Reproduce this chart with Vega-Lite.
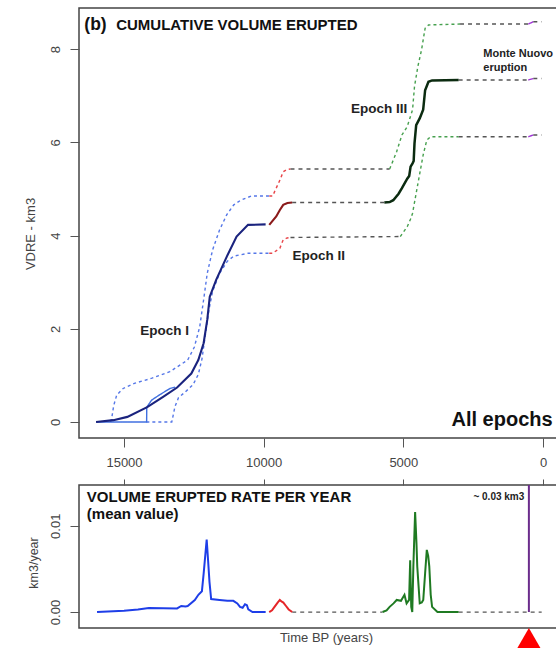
{
 "$schema": "https://vega.github.io/schema/vega-lite/v6.json",
 "background": "white",
 "padding": {"left": 23, "top": 7, "right": 0, "bottom": 0},
 "spacing": 47,
 "bounds": "flush",
 "config": {
  "font": "Liberation Sans",
  "view": {"stroke": "#444444", "strokeWidth": 1.5},
  "axis": {"domain": false, "grid": false, "tickColor": "#555555", "tickWidth": 1, "labelColor": "#444444", "labelFont": "Liberation Sans", "labelFontSize": 13, "titleFont": "Liberation Sans", "titleColor": "#444444", "titleFontWeight": "normal", "titleFontSize": 13}
 },
 "datasets": {
  "cum": [
   {"s":"bu","g":"bci","t":15480,"v":0},{"s":"bu","g":"bci","t":15440,"v":0.08},{"s":"bu","g":"bci","t":15370,"v":0.35},{"s":"bu","g":"bci","t":15260,"v":0.58},{"s":"bu","g":"bci","t":15030,"v":0.72},{"s":"bu","g":"bci","t":14630,"v":0.83},{"s":"bu","g":"bci","t":14000,"v":0.94},{"s":"bu","g":"bci","t":13360,"v":1.08},{"s":"bu","g":"bci","t":12720,"v":1.33},{"s":"bu","g":"bci","t":12480,"v":1.61},{"s":"bu","g":"bci","t":12290,"v":2.04},{"s":"bu","g":"bci","t":12150,"v":2.62},{"s":"bu","g":"bci","t":12020,"v":3.19},{"s":"bu","g":"bci","t":11830,"v":3.69},{"s":"bu","g":"bci","t":11580,"v":4.12},{"s":"bu","g":"bci","t":11320,"v":4.45},{"s":"bu","g":"bci","t":11070,"v":4.66},{"s":"bu","g":"bci","t":10820,"v":4.76},{"s":"bu","g":"bci","t":10440,"v":4.85},{"s":"bu","g":"bci","t":9800,"v":4.85},
   {"s":"bl","g":"bci","t":14200,"v":0},{"s":"bl","g":"bci","t":13290,"v":0},{"s":"bl","g":"bci","t":13175,"v":0.33},{"s":"bl","g":"bci","t":13050,"v":0.52},{"s":"bl","g":"bci","t":12800,"v":0.65},{"s":"bl","g":"bci","t":12530,"v":0.8},{"s":"bl","g":"bci","t":12340,"v":1.02},{"s":"bl","g":"bci","t":12210,"v":1.35},{"s":"bl","g":"bci","t":12080,"v":1.9},{"s":"bl","g":"bci","t":11960,"v":2.4},{"s":"bl","g":"bci","t":11830,"v":2.8},{"s":"bl","g":"bci","t":11580,"v":3.19},{"s":"bl","g":"bci","t":11300,"v":3.45},{"s":"bl","g":"bci","t":11070,"v":3.56},{"s":"bl","g":"bci","t":10560,"v":3.62},{"s":"bl","g":"bci","t":9800,"v":3.62},
   {"s":"ru","g":"rci","t":9800,"v":4.85},{"s":"ru","g":"rci","t":9680,"v":4.85},{"s":"ru","g":"rci","t":9420,"v":5.19},{"s":"ru","g":"rci","t":9300,"v":5.37},{"s":"ru","g":"rci","t":9160,"v":5.42},{"s":"ru","g":"rci","t":9040,"v":5.43},
   {"s":"rl","g":"rci","t":9800,"v":3.62},{"s":"rl","g":"rci","t":9680,"v":3.62},{"s":"rl","g":"rci","t":9420,"v":3.73},{"s":"rl","g":"rci","t":9300,"v":3.91},{"s":"rl","g":"rci","t":9160,"v":3.95},{"s":"rl","g":"rci","t":9040,"v":3.96},
   {"s":"gm1","g":"gap","t":8980,"v":4.71},{"s":"gm1","g":"gap","t":5680,"v":4.71},
   {"s":"gu1","g":"gap","t":9040,"v":5.43},{"s":"gu1","g":"gap","t":5490,"v":5.43},
   {"s":"gl1","g":"gap","t":9040,"v":3.96},{"s":"gl1","g":"gap","t":5110,"v":3.98},
   {"s":"gu","g":"gci","t":5490,"v":5.43},{"s":"gu","g":"gci","t":5360,"v":5.62},{"s":"gu","g":"gci","t":5240,"v":5.8},{"s":"gu","g":"gci","t":5050,"v":6.16},{"s":"gu","g":"gci","t":4860,"v":6.34},{"s":"gu","g":"gci","t":4670,"v":6.7},{"s":"gu","g":"gci","t":4600,"v":7.2},{"s":"gu","g":"gci","t":4480,"v":7.63},{"s":"gu","g":"gci","t":4350,"v":7.98},{"s":"gu","g":"gci","t":4220,"v":8.45},{"s":"gu","g":"gci","t":4100,"v":8.52},{"s":"gu","g":"gci","t":2970,"v":8.54},
   {"s":"gl","g":"gci","t":5110,"v":3.98},{"s":"gl","g":"gci","t":4860,"v":4.19},{"s":"gl","g":"gci","t":4730,"v":4.37},{"s":"gl","g":"gci","t":4670,"v":4.48},{"s":"gl","g":"gci","t":4540,"v":4.91},{"s":"gl","g":"gci","t":4410,"v":5.34},{"s":"gl","g":"gci","t":4290,"v":5.73},{"s":"gl","g":"gci","t":4160,"v":6.05},{"s":"gl","g":"gci","t":4030,"v":6.12},{"s":"gl","g":"gci","t":3020,"v":6.12},
   {"s":"gm2","g":"gap","t":3020,"v":7.34},{"s":"gm2","g":"gap","t":526,"v":7.34},
   {"s":"gu2","g":"gap","t":2970,"v":8.54},{"s":"gu2","g":"gap","t":526,"v":8.54},
   {"s":"gl2","g":"gap","t":3020,"v":6.12},{"s":"gl2","g":"gap","t":526,"v":6.12},
   {"s":"mm","g":"mn","t":526,"v":7.34},{"s":"mm","g":"mn","t":347,"v":7.37},
   {"s":"mu","g":"mn","t":526,"v":8.54},{"s":"mu","g":"mn","t":347,"v":8.59},
   {"s":"ml","g":"mn","t":526,"v":6.12},{"s":"ml","g":"mn","t":347,"v":6.16},
   {"s":"gm3","g":"gap","t":347,"v":7.37},{"s":"gm3","g":"gap","t":47,"v":7.37},
   {"s":"gu3","g":"gap","t":347,"v":8.59},{"s":"gu3","g":"gap","t":47,"v":8.59},
   {"s":"gl3","g":"gap","t":347,"v":6.16},{"s":"gl3","g":"gap","t":47,"v":6.16},
   {"s":"fit","g":"fit","t":16000,"v":0},{"s":"fit","g":"fit","t":14190,"v":0},{"s":"fit","g":"fit","t":14185,"v":0.32},{"s":"fit","g":"fit","t":14010,"v":0.47},{"s":"fit","g":"fit","t":13710,"v":0.59},{"s":"fit","g":"fit","t":13350,"v":0.72},{"s":"fit","g":"fit","t":13170,"v":0.75},
   {"s":"e1","g":"e1","t":16000,"v":0},{"s":"e1","g":"e1","t":15380,"v":0.04},{"s":"e1","g":"e1","t":14880,"v":0.11},{"s":"e1","g":"e1","t":14170,"v":0.32},{"s":"e1","g":"e1","t":13600,"v":0.54},{"s":"e1","g":"e1","t":13100,"v":0.74},{"s":"e1","g":"e1","t":12590,"v":1.04},{"s":"e1","g":"e1","t":12340,"v":1.33},{"s":"e1","g":"e1","t":12150,"v":1.69},{"s":"e1","g":"e1","t":12020,"v":2.19},{"s":"e1","g":"e1","t":11930,"v":2.69},{"s":"e1","g":"e1","t":11700,"v":3.05},{"s":"e1","g":"e1","t":11320,"v":3.55},{"s":"e1","g":"e1","t":10970,"v":3.98},{"s":"e1","g":"e1","t":10560,"v":4.23},{"s":"e1","g":"e1","t":9930,"v":4.24},
   {"s":"e2","g":"e2","t":9800,"v":4.23},{"s":"e2","g":"e2","t":9550,"v":4.41},{"s":"e2","g":"e2","t":9420,"v":4.55},{"s":"e2","g":"e2","t":9300,"v":4.66},{"s":"e2","g":"e2","t":9150,"v":4.7},{"s":"e2","g":"e2","t":8980,"v":4.71},
   {"s":"e3","g":"e3","t":5680,"v":4.71},{"s":"e3","g":"e3","t":5490,"v":4.72},{"s":"e3","g":"e3","t":5360,"v":4.76},{"s":"e3","g":"e3","t":5170,"v":4.9},{"s":"e3","g":"e3","t":5050,"v":5.02},{"s":"e3","g":"e3","t":4860,"v":5.22},{"s":"e3","g":"e3","t":4790,"v":5.28},{"s":"e3","g":"e3","t":4740,"v":5.48},{"s":"e3","g":"e3","t":4670,"v":5.55},{"s":"e3","g":"e3","t":4630,"v":5.6},{"s":"e3","g":"e3","t":4600,"v":5.98},{"s":"e3","g":"e3","t":4540,"v":6.37},{"s":"e3","g":"e3","t":4410,"v":6.52},{"s":"e3","g":"e3","t":4290,"v":6.7},{"s":"e3","g":"e3","t":4220,"v":7.12},{"s":"e3","g":"e3","t":4100,"v":7.3},{"s":"e3","g":"e3","t":3970,"v":7.33},{"s":"e3","g":"e3","t":3020,"v":7.34}
  ],
  "rate": [
   {"s":"ga","g":"gap","t":8978,"r":0},{"s":"ga","g":"gap","t":5744,"r":0},
   {"s":"gb","g":"gap","t":3019,"r":0},{"s":"gb","g":"gap","t":47,"r":0},
   {"s":"b","g":"blue","t":15965,"r":0},{"s":"b","g":"blue","t":15000,"r":0.00015},{"s":"b","g":"blue","t":14500,"r":0.0003},{"s":"b","g":"blue","t":14110,"r":0.00048},{"s":"b","g":"blue","t":13600,"r":0.00045},{"s":"b","g":"blue","t":13100,"r":0.00042},{"s":"b","g":"blue","t":12950,"r":0.0007},{"s":"b","g":"blue","t":12800,"r":0.00065},{"s":"b","g":"blue","t":12720,"r":0.0007},{"s":"b","g":"blue","t":12465,"r":0.0014},{"s":"b","g":"blue","t":12337,"r":0.002},{"s":"b","g":"blue","t":12211,"r":0.0024},{"s":"b","g":"blue","t":12147,"r":0.0045},{"s":"b","g":"blue","t":12084,"r":0.0068},{"s":"b","g":"blue","t":12040,"r":0.0084},{"s":"b","g":"blue","t":11990,"r":0.006},{"s":"b","g":"blue","t":11940,"r":0.0035},{"s":"b","g":"blue","t":11880,"r":0.0015},{"s":"b","g":"blue","t":11577,"r":0.0014},{"s":"b","g":"blue","t":11300,"r":0.0013},{"s":"b","g":"blue","t":11087,"r":0.0013},{"s":"b","g":"blue","t":10943,"r":0.001},{"s":"b","g":"blue","t":10847,"r":0.0006},{"s":"b","g":"blue","t":10753,"r":0.0005},{"s":"b","g":"blue","t":10668,"r":0.0009},{"s":"b","g":"blue","t":10600,"r":0.0008},{"s":"b","g":"blue","t":10550,"r":0.0003},{"s":"b","g":"blue","t":10400,"r":0},{"s":"b","g":"blue","t":9929,"r":0},
   {"s":"r","g":"red","t":9802,"r":0},{"s":"r","g":"red","t":9700,"r":0.0002},{"s":"r","g":"red","t":9612,"r":0.0006},{"s":"r","g":"red","t":9500,"r":0.0011},{"s":"r","g":"red","t":9422,"r":0.0014},{"s":"r","g":"red","t":9350,"r":0.0012},{"s":"r","g":"red","t":9295,"r":0.0011},{"s":"r","g":"red","t":9200,"r":0.0007},{"s":"r","g":"red","t":9105,"r":0.0003},{"s":"r","g":"red","t":8978,"r":0},
   {"s":"gr","g":"green","t":5744,"r":0},{"s":"gr","g":"green","t":5600,"r":0.0002},{"s":"gr","g":"green","t":5491,"r":0.0006},{"s":"gr","g":"green","t":5350,"r":0.001},{"s":"gr","g":"green","t":5237,"r":0.0014},{"s":"gr","g":"green","t":5085,"r":0.0013},{"s":"gr","g":"green","t":4959,"r":0.002},{"s":"gr","g":"green","t":4883,"r":0.001},{"s":"gr","g":"green","t":4794,"r":0.0014},{"s":"gr","g":"green","t":4755,"r":0.006},{"s":"gr","g":"green","t":4717,"r":0.0006},{"s":"gr","g":"green","t":4680,"r":0},{"s":"gr","g":"green","t":4641,"r":0.0053},{"s":"gr","g":"green","t":4578,"r":0.0116},{"s":"gr","g":"green","t":4530,"r":0.008},{"s":"gr","g":"green","t":4502,"r":0.0053},{"s":"gr","g":"green","t":4413,"r":0.001},{"s":"gr","g":"green","t":4340,"r":0.0011},{"s":"gr","g":"green","t":4287,"r":0.0014},{"s":"gr","g":"green","t":4220,"r":0.0045},{"s":"gr","g":"green","t":4160,"r":0.0072},{"s":"gr","g":"green","t":4110,"r":0.0065},{"s":"gr","g":"green","t":4071,"r":0.0053},{"s":"gr","g":"green","t":4020,"r":0.002},{"s":"gr","g":"green","t":3970,"r":0.0006},{"s":"gr","g":"green","t":3779,"r":0},{"s":"gr","g":"green","t":3019,"r":0}
  ]
 },
 "vconcat": [
  {
   "width": 494,
   "height": 430,
   "encoding": {
    "x": {"field": "t", "type": "quantitative", "scale": {"domain": [-1074, 16611], "reverse": true, "nice": false, "zero": false}, "axis": {"orient": "bottom", "values": [0, 5000, 10000, 15000], "format": "d", "tickSize": 9, "labelPadding": 9, "labelFlush": false, "title": null}},
    "y": {"field": "v", "type": "quantitative", "scale": {"domain": [-0.343, 8.884], "nice": false, "zero": false}, "axis": {"values": [0, 2, 4, 6, 8], "format": "d", "tickSize": 9, "labelPadding": 8, "labelAngle": 270, "labelAlign": "center", "labelBaseline": "bottom", "title": "VDRE - km3", "titleAngle": 270, "titleAlign": "center", "titleBaseline": "middle", "titleX": -49, "titleY": 225.5}}
   },
   "layer": [
    {
     "data": {"name": "cum"},
     "transform": [{"filter": {"field": "g", "oneOf": ["bci", "rci", "gci", "gap", "mn", "fit"]}}],
     "mark": {"type": "line", "strokeWidth": 1.4},
     "encoding": {
      "detail": {"field": "s"},
      "color": {"field": "g", "type": "nominal", "legend": null, "scale": {"domain": ["bci", "rci", "gci", "gap", "mn", "fit", "e1", "e2", "e3", "blue", "red", "green"], "range": ["#5577e8", "#e8464a", "#46a04e", "#555555", "#a033d6", "#3f6fe0", "#1a237e", "#8b1a1a", "#0b2b10", "#1e3ee8", "#e52528", "#1f7a22"]}},
      "strokeDash": {"field": "g", "type": "nominal", "legend": null, "scale": {"domain": ["bci", "rci", "gci", "gap", "mn", "fit"], "range": [[3, 3], [3, 3], [3, 3], [4, 4], [1, 0], [1, 0]]}}
     }
    },
    {
     "data": {"name": "cum"},
     "transform": [{"filter": {"field": "g", "oneOf": ["e1", "e2"]}}],
     "mark": {"type": "line", "strokeWidth": 2.1},
     "encoding": {
      "detail": {"field": "s"},
      "color": {"field": "g", "type": "nominal", "legend": null, "scale": {"domain": ["bci", "rci", "gci", "gap", "mn", "fit", "e1", "e2", "e3", "blue", "red", "green"], "range": ["#5577e8", "#e8464a", "#46a04e", "#555555", "#a033d6", "#3f6fe0", "#1a237e", "#8b1a1a", "#0b2b10", "#1e3ee8", "#e52528", "#1f7a22"]}}
     }
    },
    {
     "data": {"name": "cum"},
     "transform": [{"filter": {"field": "g", "equal": "e3"}}],
     "mark": {"type": "line", "strokeWidth": 2.5},
     "encoding": {
      "detail": {"field": "s"},
      "color": {"field": "g", "type": "nominal", "legend": null, "scale": {"domain": ["bci", "rci", "gci", "gap", "mn", "fit", "e1", "e2", "e3", "blue", "red", "green"], "range": ["#5577e8", "#e8464a", "#46a04e", "#555555", "#a033d6", "#3f6fe0", "#1a237e", "#8b1a1a", "#0b2b10", "#1e3ee8", "#e52528", "#1f7a22"]}}
     }
    },
    {"data": {"values": [{"t": 16420, "v": 8.42}]}, "mark": {"type": "text", "text": "(b)", "fontSize": 17.5, "fontWeight": "bold", "align": "left", "baseline": "alphabetic", "color": "#111111"}},
    {"data": {"values": [{"t": 15279, "v": 8.42}]}, "mark": {"type": "text", "text": "CUMULATIVE VOLUME ERUPTED", "fontSize": 15, "fontWeight": "bold", "align": "left", "baseline": "alphabetic", "color": "#111111"}},
    {"data": {"values": [{"t": 13543, "v": 1.95}]}, "mark": {"type": "text", "text": "Epoch I", "fontSize": 13.5, "fontWeight": "bold", "align": "center", "baseline": "middle", "color": "#222222"}},
    {"data": {"values": [{"t": 8026, "v": 3.565}]}, "mark": {"type": "text", "text": "Epoch II", "fontSize": 13.5, "fontWeight": "bold", "align": "center", "baseline": "middle", "color": "#222222"}},
    {"data": {"values": [{"t": 5871, "v": 6.71}]}, "mark": {"type": "text", "text": "Epoch III", "fontSize": 13.5, "fontWeight": "bold", "align": "center", "baseline": "middle", "color": "#222222"}},
    {"data": {"values": [{"t": 2137, "v": 7.893}]}, "mark": {"type": "text", "text": ["Monte Nuovo", "eruption"], "lineHeight": 14, "fontSize": 11, "fontWeight": "bold", "align": "left", "baseline": "middle", "color": "#222222"}},
    {"data": {"values": [{"t": -344, "v": -0.086}]}, "mark": {"type": "text", "text": "All epochs", "fontSize": 20, "fontWeight": "bold", "align": "right", "baseline": "alphabetic", "color": "#111111"}}
   ]
  },
  {
   "width": 494,
   "height": 143,
   "resolve": {"axis": {"x": "independent"}},
   "encoding": {
    "y": {"field": "r", "type": "quantitative", "scale": {"domain": [-0.00185, 0.01472], "nice": false, "zero": false}, "axis": {"values": [0, 0.01], "format": ".2f", "tickSize": 9, "labelPadding": 8, "labelAngle": 270, "labelAlign": "center", "labelBaseline": "bottom", "title": "km3/year", "titleFontSize": 12.5, "titleAngle": 270, "titleAlign": "center", "titleBaseline": "middle", "titleX": -46, "titleY": 77.5}}
   },
   "layer": [
    {
     "data": {"name": "rate"},
     "transform": [{"filter": {"field": "g", "equal": "gap"}}],
     "mark": {"type": "line", "strokeWidth": 1.3, "strokeDash": [4, 4], "color": "#555555"},
     "encoding": {
      "x": {"field": "t", "type": "quantitative", "scale": {"domain": [-1074, 16611], "reverse": true, "nice": false, "zero": false}, "axis": {"orient": "top", "values": [0, 5000, 10000, 15000], "labels": false, "tickSize": 6, "title": null}},
      "detail": {"field": "s"}
     }
    },
    {
     "data": {"name": "rate"},
     "transform": [{"filter": {"field": "g", "oneOf": ["blue", "red", "green"]}}],
     "mark": {"type": "line", "strokeWidth": 2},
     "encoding": {
      "x": {"field": "t", "type": "quantitative", "axis": null},
      "detail": {"field": "s"},
      "color": {"field": "g", "type": "nominal", "legend": null, "scale": {"domain": ["bci", "rci", "gci", "gap", "mn", "fit", "e1", "e2", "e3", "blue", "red", "green"], "range": ["#5577e8", "#e8464a", "#46a04e", "#555555", "#a033d6", "#3f6fe0", "#1a237e", "#8b1a1a", "#0b2b10", "#1e3ee8", "#e52528", "#1f7a22"]}}
     }
    },
    {
     "data": {"values": [{"t": 505, "r": 0, "r2": 0.03}]},
     "mark": {"type": "rule", "color": "#6b2c8c", "strokeWidth": 2, "clip": true},
     "encoding": {
      "x": {"field": "t", "type": "quantitative", "axis": {"orient": "bottom", "ticks": false, "labels": false, "title": "Time BP (years)", "titlePadding": 3}},
      "y2": {"field": "r2"}
     }
    },
    {
     "data": {"values": [{"t": 505, "r": -0.00336}]},
     "mark": {"type": "point", "shape": "triangle-up", "filled": true, "color": "#ff0000", "opacity": 1, "size": 900},
     "encoding": {"x": {"field": "t", "type": "quantitative", "axis": null}}
    },
    {
     "data": {"values": [{"t": 16332, "r": 0.01333}]},
     "mark": {"type": "text", "text": ["VOLUME ERUPTED RATE PER YEAR", "(mean value)"], "lineHeight": 17, "fontSize": 15, "fontWeight": "bold", "align": "left", "baseline": "middle", "color": "#111111"},
     "encoding": {"x": {"field": "t", "type": "quantitative", "axis": null}}
    },
    {
     "data": {"values": [{"t": 669, "r": 0.01333}]},
     "mark": {"type": "text", "text": "~ 0.03 km3", "fontSize": 10, "fontWeight": "bold", "align": "right", "baseline": "middle", "color": "#222222"},
     "encoding": {"x": {"field": "t", "type": "quantitative", "axis": null}}
    }
   ]
  }
 ]
}
